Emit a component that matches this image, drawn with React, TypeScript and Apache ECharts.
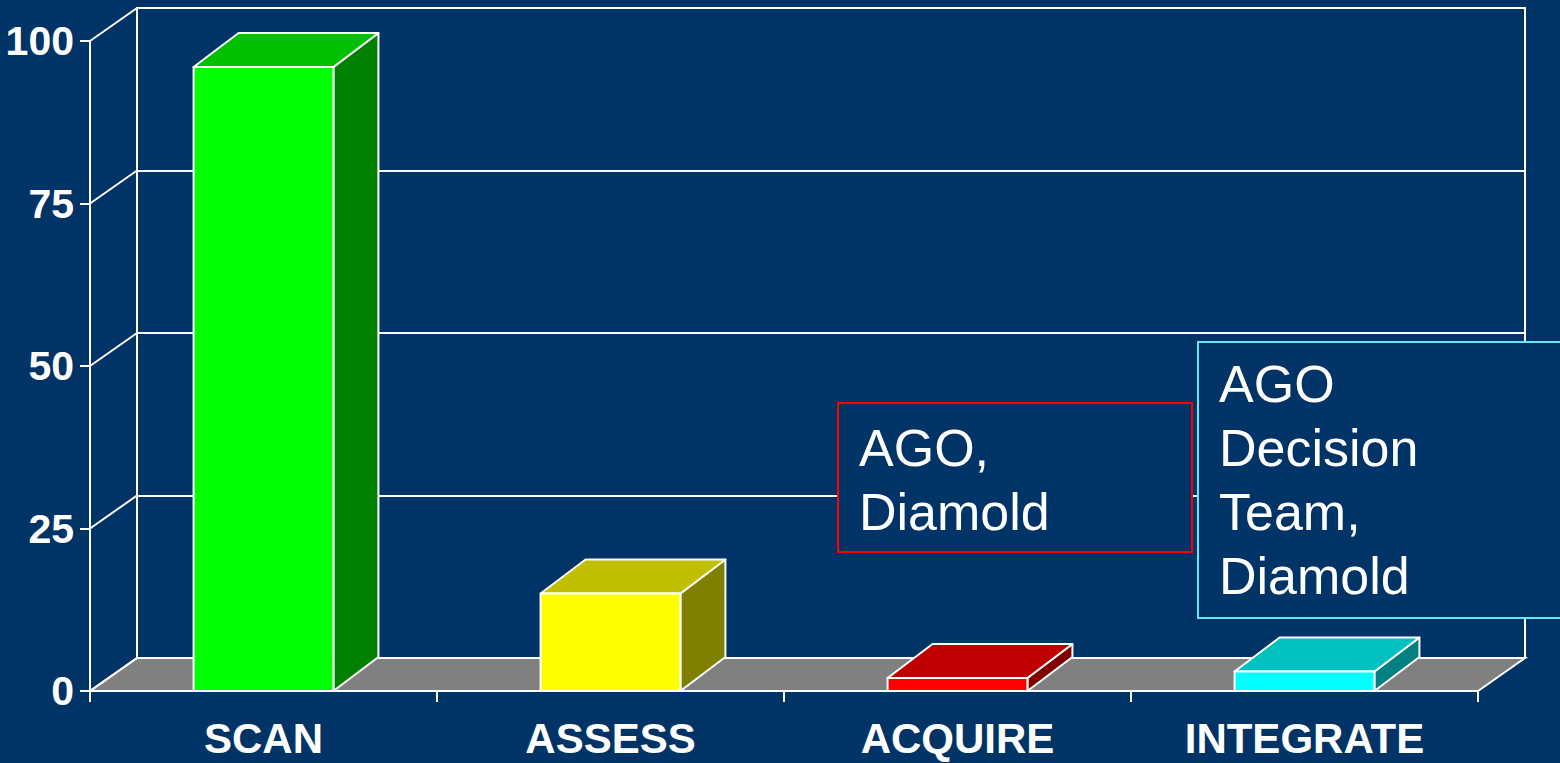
import React, { useEffect, useRef } from 'react';
import * as echarts from 'echarts';

const categories = ['SCAN', 'ASSESS', 'ACQUIRE', 'INTEGRATE'];
const values = [96, 15, 2, 3];
const yTicks = [0, 25, 50, 75, 100];
const frontColors = ['#00FF00', '#FFFF00', '#FF0000', '#00FFFF'];
const topColors = ['#00C000', '#C0C000', '#C00000', '#00C0C0'];
const sideColors = ['#008000', '#808000', '#800000', '#008080'];
const note1 = ['AGO,', 'Diamold'];
const note2 = ['AGO', 'Decision', 'Team,', 'Diamold'];

const BG = '#003366';
const WALL_DX = 47;
const WALL_DY = -33;
const BAR_DX = 45;
const BAR_DY = -34;
const FONT = '"Liberation Sans", Arial, sans-serif';

export default function App() {
  const ref = useRef<HTMLDivElement>(null);
  useEffect(() => {
    if (!ref.current) return;
    const chart = echarts.init(ref.current, undefined, { renderer: 'svg' });
    const option: any = {
      animation: false,
      backgroundColor: BG,
      grid: [
        { left: 90, right: 82, top: 41, bottom: 72, show: false },
        { left: 137, right: 35, top: 8, bottom: 105, show: true, borderColor: '#ffffff', borderWidth: 2, backgroundColor: 'transparent' },
      ],
      xAxis: [
        {
          type: 'category',
          gridIndex: 0,
          data: categories,
          boundaryGap: true,
          axisLine: { show: true, lineStyle: { color: '#ffffff', width: 2 } },
          axisTick: { show: true, length: 11, lineStyle: { color: '#ffffff', width: 2 } },
          axisLabel: { color: '#ffffff', fontSize: 42, fontWeight: 'bold', fontFamily: FONT, margin: 26 },
          splitLine: { show: false },
        },
        {
          type: 'category',
          gridIndex: 1,
          data: categories,
          show: false,
        },
      ],
      yAxis: [
        {
          type: 'value',
          gridIndex: 0,
          min: 0,
          max: 100,
          interval: 25,
          axisLine: { show: true, lineStyle: { color: '#ffffff', width: 2 } },
          axisTick: { show: true, length: 10, lineStyle: { color: '#ffffff', width: 2 } },
          axisLabel: { color: '#ffffff', fontSize: 41, fontWeight: 'bold', fontFamily: FONT, margin: 16 },
          splitLine: { show: false },
        },
        {
          type: 'value',
          gridIndex: 1,
          min: 0,
          max: 100,
          interval: 25,
          axisLine: { show: false },
          axisTick: { show: false },
          axisLabel: { show: false },
          splitLine: { show: true, lineStyle: { color: '#ffffff', width: 2 } },
        },
      ],
      series: [
        {
          type: 'custom',
          name: 'frame',
          xAxisIndex: 0,
          yAxisIndex: 0,
          z: 1,
          silent: true,
          data: yTicks.map((t) => [0, t]),
          renderItem: (params: any, api: any) => {
            const v = api.value(1);
            const p = api.coord([0, v]);
            const cs = params.coordSys;
            const xl = cs.x;
            const xr = cs.x + cs.width;
            const y = p[1];
            const children: any[] = [];
            if (v === 0) {
              children.push({
                type: 'polygon',
                shape: { points: [[xl, y], [xr, y], [xr + WALL_DX, y + WALL_DY], [xl + WALL_DX, y + WALL_DY]] },
                style: { fill: '#808080', stroke: '#ffffff', lineWidth: 2 },
              });
            }
            children.push({
              type: 'line',
              shape: { x1: xl, y1: y, x2: xl + WALL_DX, y2: y + WALL_DY },
              style: { stroke: '#ffffff', lineWidth: 2 },
            });
            return { type: 'group', children };
          },
        },
        {
          type: 'custom',
          name: 'bars',
          xAxisIndex: 0,
          yAxisIndex: 0,
          z: 3,
          data: categories.map((c, i) => [i, values[i]]),
          renderItem: (params: any, api: any) => {
            const i = params.dataIndex;
            const top = api.coord([api.value(0), api.value(1)]);
            const base = api.coord([api.value(0), 0]);
            const bw = api.size([1, 0])[0] * 0.403;
            const x0 = top[0] - bw / 2;
            const x1 = top[0] + bw / 2;
            const yt = top[1];
            const yb = base[1];
            const st = { stroke: '#ffffff', lineWidth: 2, lineJoin: 'round' };
            return {
              type: 'group',
              children: [
                {
                  type: 'polygon',
                  shape: { points: [[x1, yt], [x1, yb], [x1 + BAR_DX, yb + BAR_DY], [x1 + BAR_DX, yt + BAR_DY]] },
                  style: { fill: sideColors[i], ...st },
                },
                {
                  type: 'polygon',
                  shape: { points: [[x0, yt], [x1, yt], [x1 + BAR_DX, yt + BAR_DY], [x0 + BAR_DX, yt + BAR_DY]] },
                  style: { fill: topColors[i], ...st },
                },
                {
                  type: 'rect',
                  shape: { x: x0, y: yt, width: bw, height: yb - yt },
                  style: { fill: frontColors[i], ...st },
                },
              ],
            };
          },
        },
      ],
      graphic: [
        {
          type: 'rect',
          z: 100,
          shape: { x: 838, y: 403, width: 354, height: 149 },
          style: { fill: BG, stroke: '#FF0000', lineWidth: 2 },
        },
        {
          type: 'text',
          z: 101,
          x: 859,
          y: 416,
          style: { text: note1.join('\n'), fill: '#ffffff', fontSize: 52, lineHeight: 64, fontFamily: FONT, verticalAlign: 'top', align: 'left' },
        },
        {
          type: 'rect',
          z: 100,
          shape: { x: 1198, y: 342, width: 420, height: 276 },
          style: { fill: BG, stroke: '#66E6F0', lineWidth: 2 },
        },
        {
          type: 'text',
          z: 101,
          x: 1219,
          y: 352,
          style: { text: note2.join('\n'), fill: '#ffffff', fontSize: 52, lineHeight: 64, fontFamily: FONT, verticalAlign: 'top', align: 'left' },
        },
      ],
    };
    chart.setOption(option);
    return () => chart.dispose();
  }, []);
  return <div ref={ref} style={{ position: 'fixed', left: 0, top: 0, width: 1560, height: 763 }} />;
}
